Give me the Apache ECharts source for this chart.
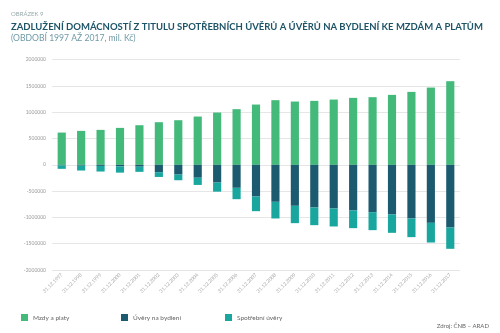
<!DOCTYPE html>
<html><head><meta charset="utf-8">
<script src="https://cdn.jsdelivr.net/npm/echarts@6/dist/echarts.min.js"></script>
<style>html,body{margin:0;padding:0;background:#fff}#c{width:500px;height:333px}</style>
</head><body><div id="c"></div>
<script>
const categories = ['31.12.1997','31.12.1998','31.12.1999','31.12.2000','31.12.2001','31.12.2002','31.12.2003','31.12.2004','31.12.2005','31.12.2006','31.12.2007','31.12.2008','31.12.2009','31.12.2010','31.12.2011','31.12.2012','31.12.2013','31.12.2014','31.12.2015','31.12.2016','31.12.2017'];
const mzdy = [614000,646000,665000,703000,754000,811000,849000,919000,995000,1059000,1147000,1230000,1204000,1217000,1242000,1274000,1287000,1331000,1388000,1470000,1591000];
const bydleni = [-10000,-15000,-20000,-30000,-35000,-140000,-185000,-245000,-337000,-437000,-602000,-703000,-779000,-811000,-830000,-868000,-900000,-944000,-1020000,-1103000,-1192000];
const spotrebni = [-66000,-93000,-107000,-118000,-98000,-90000,-108000,-137000,-173000,-216000,-279000,-317000,-330000,-336000,-342000,-336000,-342000,-349000,-355000,-374000,-405000];
const yTicks = [-2000000,-1500000,-1000000,-500000,0,500000,1000000,1500000,2000000];

const C_GREEN = '#43b97a', C_DARK = '#1b5a6f', C_TEAL = '#19a69e';
const FONT = 'Lato';
const chart = echarts.init(document.getElementById('c'), null, {renderer:'canvas'});
function leg(name, left){
  return {data:[name], left:left, top:309, itemWidth:7, itemHeight:7, icon:'rect',
    textStyle:{fontFamily:FONT, fontSize:6.5, color:'#666'}, itemGap:5, selectedMode:false};
}
chart.setOption({
  animation:false,
  title:[
    {text:'OBRÁZEK 9', left:6, top:6, textStyle:{fontFamily:FONT, fontSize:6, fontWeight:'normal', color:'#9aa'}},
    {text:'ZADLUŽENÍ DOMÁCNOSTÍ Z TITULU SPOTŘEBNÍCH ÚVĚRŮ A ÚVĚRŮ NA BYDLENÍ KE MZDÁM A PLATŮM', left:6, top:17, textStyle:{fontFamily:FONT, fontSize:9.5, fontWeight:'bold', color:'#1d5468'}},
    {text:'(OBDOBÍ 1997 AŽ 2017, mil. Kč)', left:6, top:29, textStyle:{fontFamily:FONT, fontSize:8.6, fontWeight:'normal', color:'#6f9aa6'}},
    {text:'Zdroj: ČNB – ARAD', right:6, top:318, textStyle:{fontFamily:FONT, fontSize:6, fontWeight:'normal', color:'#666'}}
  ],
  legend:[leg('Mzdy a platy',16), leg('Úvěry na bydlení',116), leg('Spotřební úvěry',220)],
  grid:{left:52, right:40, top:59.7, bottom:63, containLabel:false},
  xAxis:{type:'category', data:categories, position:'bottom',
    axisLine:{show:false, onZero:false}, axisTick:{show:false},
    axisLabel:{rotate:45, fontFamily:FONT, fontSize:5, color:'#aaa', interval:0, margin:4}},
  yAxis:{type:'value', min:-2000000, max:2000000, interval:500000,
    axisLine:{show:false}, axisTick:{show:false},
    splitLine:{lineStyle:{color:'#e6e6e6', width:1}},
    axisLabel:{fontFamily:FONT, fontSize:5, color:'#999', margin:6,
      customValues: yTicks, formatter: function(v){ return String(v); }}},
  series:[
    {name:'Mzdy a platy', type:'bar', stack:'a', data:mzdy, barWidth:'42%', itemStyle:{color:C_GREEN}},
    {name:'Úvěry na bydlení', type:'bar', stack:'a', data:bydleni, itemStyle:{color:C_DARK}},
    {name:'Spotřební úvěry', type:'bar', stack:'a', data:spotrebni, itemStyle:{color:C_TEAL}}
  ]
});
</script></body></html>
